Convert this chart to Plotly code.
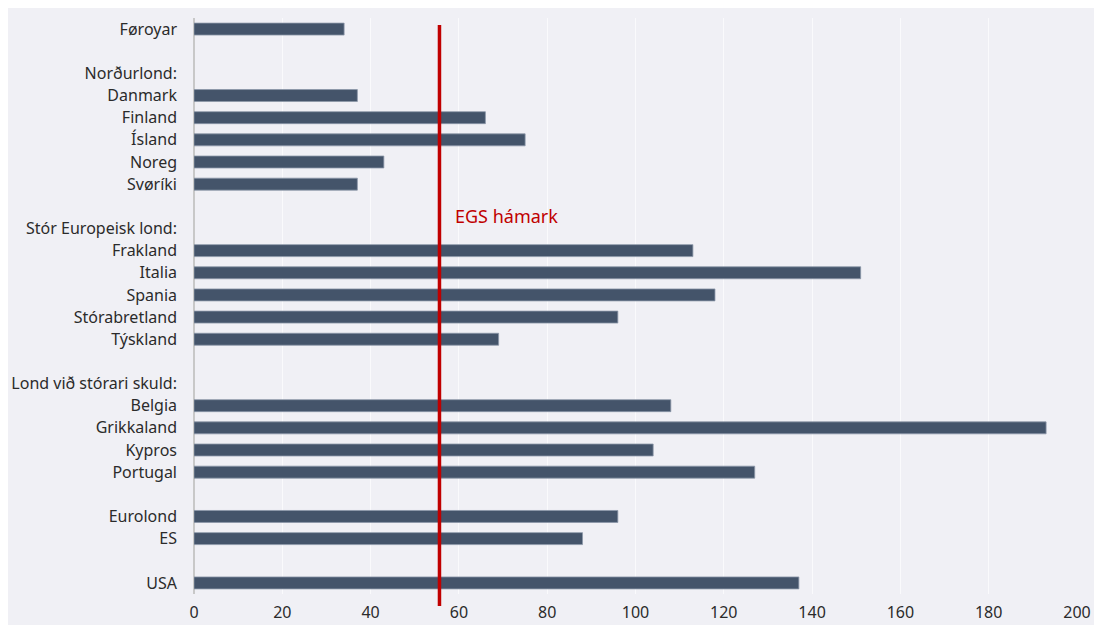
import plotly.graph_objects as go

labels = ["Føroyar", " ", "Norðurlond:", "Danmark", "Finland", "Ísland", "Noreg", "Svøríki", "  ",
          "Stór Europeisk lond:", "Frakland", "Italia", "Spania", "Stórabretland", "Týskland", "   ",
          "Lond við stórari skuld:", "Belgia", "Grikkaland", "Kypros", "Portugal", "    ",
          "Eurolond", "ES", "     ", "USA"]
values = [34, None, None, 37, 66, 75, 43, 37, None,
          None, 113, 151, 118, 96, 69, None,
          None, 108, 193, 104, 127, None,
          96, 88, None, 137]
egs_limit = 55.6
x_ticks = [0, 20, 40, 60, 80, 100, 120, 140, 160, 180, 200]

BG = "#F0F0F5"
FONT = "Noto Sans"
TXT = "#2B2B2B"

fig = go.Figure()
fig.add_trace(go.Bar(
    x=values, y=labels, orientation="h",
    marker=dict(color="#44546A", line=dict(width=0.8, color="#8C97A8")),
    hoverinfo="x+y",
))

fig.update_layout(
    width=1086, height=617,
    margin=dict(l=186, r=17, t=10, b=31, autoexpand=False),
    paper_bgcolor=BG, plot_bgcolor=BG,
    bargap=0.46,
    showlegend=False,
    font=dict(family=FONT, size=16, color=TXT),
    xaxis=dict(
        range=[0, 200], tickvals=x_ticks, showgrid=True, gridcolor="#FAFAFC", gridwidth=1,
        zeroline=True, zerolinecolor="#C8C8C8", zerolinewidth=1.5,
        showline=False, ticks="", ticklabelstandoff=7, automargin=False,
        tickfont=dict(family=FONT, size=16, color=TXT),
    ),
    yaxis=dict(
        autorange="reversed", type="category", showgrid=False, zeroline=False,
        ticks="", ticklabelstandoff=16, automargin=False,
        tickfont=dict(family=FONT, size=16, color=TXT),
    ),
    shapes=[
        dict(type="line", xref="x", yref="paper", x0=egs_limit, x1=egs_limit, y0=-0.0208, y1=0.988,
             line=dict(color="#C00000", width=3.5), layer="above"),
    ],
    annotations=[
        dict(text="EGS hámark", x=58.6, y=0.656, xref="x", yref="paper", xanchor="left",
             yanchor="middle", showarrow=False, font=dict(family=FONT, size=18, color="#C00000")),
    ],
)

fig.write_html("out.html")
